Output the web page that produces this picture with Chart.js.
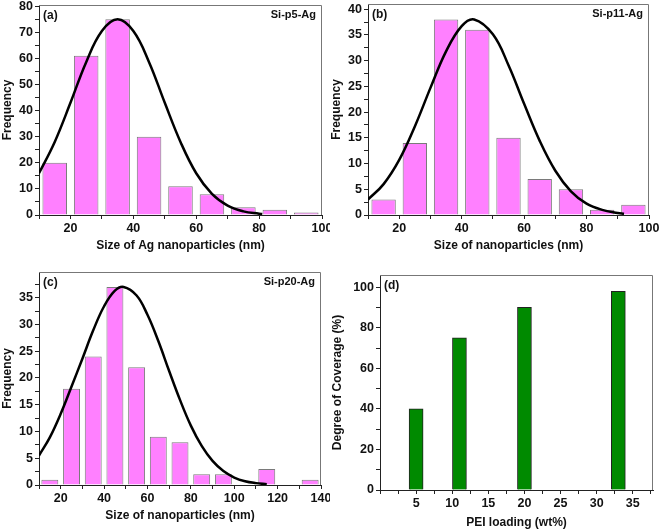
<!DOCTYPE html>
<html>
<head>
<meta charset="utf-8">
<script src="https://cdn.jsdelivr.net/npm/chart.js@4.4.1/dist/chart.umd.min.js"></script>
<style>
  html, body { margin: 0; padding: 0; background: #fff; }
  #page { position: relative; width: 661px; height: 531px; overflow: hidden; }
  canvas { position: absolute; }
</style>
</head>
<body>
<div id="page">
  <canvas id="chartA" width="330" height="265" style="left:0;top:0"></canvas>
  <canvas id="chartB" width="331" height="265" style="left:330px;top:0"></canvas>
  <canvas id="chartC" width="330" height="266" style="left:0;top:265px"></canvas>
  <canvas id="chartD" width="331" height="266" style="left:330px;top:265px"></canvas>
</div>
<script>
// (a) Si-p5-Ag
const binsA = [15, 25, 35, 45, 55, 65, 75, 85, 95];
const countsA = [20, 61, 75, 30, 11, 8, 3, 2, 1];
const fitXA = [10, 15, 20, 25, 30, 35, 40, 45, 50, 55, 60, 65, 70, 75, 80, 81];
const fitYA = [16, 28, 43, 58.6, 70.5, 75, 70.5, 58.6, 43, 28, 16, 8.1, 3.6, 1.4, 0.5, 0.4];

// (b) Si-p11-Ag
const binsB = [15, 25, 35, 45, 55, 65, 75, 85, 95];
const countsB = [3, 14, 38, 36, 15, 7, 5, 1, 2];
const fitXB = [10, 15, 20, 25, 30, 35, 40, 44, 50, 55, 60, 65, 70, 75, 80, 85, 90, 92];
const fitYB = [3, 6, 10.7, 17.2, 24.7, 31.8, 36.7, 38, 35.1, 29.1, 21.6, 14.4, 8.6, 4.6, 2.2, 1, 0.4, 0.25];

// (c) Si-p20-Ag
const binsC = [15, 25, 35, 45, 55, 65, 75, 85, 95, 115, 135];
const countsC = [1, 18, 24, 37, 22, 9, 8, 2, 2, 3, 1];
const fitXC = [10, 15, 20, 25, 30, 35, 40, 45, 49, 55, 60, 65, 70, 75, 80, 85, 90, 95, 100, 105, 110, 115];
const fitYC = [5.5, 8.9, 13.3, 18.4, 23.6, 28.9, 33.4, 36.3, 37, 35.4, 31.8, 26.9, 21.3, 15.9, 11.1, 7.3, 4.5, 2.6, 1.4, 0.7, 0.35, 0.15];

// (d) coverage vs PEI loading
const loading = [5, 11, 20, 33];
const coverage = [40, 75, 90, 98];

const FONT = "'Liberation Sans', Arial, sans-serif";
const tickFont = { family: FONT, size: 12.5, weight: 'bold' };
const titleFont = { family: FONT, size: 12, weight: 'bold' };

// frame + panel labels
const framePlugin = {
    id: 'frame',
    afterDraw(chart, args, opts) {
        const { ctx, chartArea: a } = chart;
        ctx.save();
        ctx.strokeStyle = '#777';
        ctx.lineWidth = 1;
        ctx.beginPath();
        ctx.moveTo(a.left, a.top + 0.5);
        ctx.lineTo(a.right - 0.5, a.top + 0.5);
        ctx.lineTo(a.right - 0.5, a.bottom);
        ctx.stroke();
        ctx.fillStyle = '#111';
        ctx.textBaseline = 'middle';
        ctx.font = 'bold 12px ' + FONT;
        ctx.textAlign = 'left';
        ctx.fillText(opts.tag, a.left + 4, a.top + 11);
        if (opts.label) {
            ctx.font = 'bold 11px ' + FONT;
            ctx.textAlign = 'right';
            ctx.fillText(opts.label, a.right - 6, a.top + 10);
        }
        ctx.restore();
    }
};

function yAxis(max, step, labelEvery, width, title) {
    return {
        type: 'linear', min: 0, max: max,
        border: { color: '#222', width: 1 },
        grid: { drawOnChartArea: false, tickLength: 4, tickColor: '#222' },
        ticks: {
            stepSize: step, includeBounds: false, autoSkip: false, padding: 2,
            color: '#111', font: tickFont,
            callback: v => (Math.abs(v % labelEvery) < 1e-6 ? v : '')
        },
        title: { display: true, text: title, color: '#111', font: titleFont, padding: { top: 0, bottom: 0 } },
        afterFit: s => { s.width = width; s.paddingTop = 0; s.paddingBottom = 0; }
    };
}

function xAxis(min, max, step, labelFn, height, title, titlePad) {
    return {
        type: 'linear', min: min, max: max, offset: false,
        border: { color: '#222', width: 1 },
        grid: { drawOnChartArea: false, offset: false, tickLength: 4, tickColor: '#222' },
        ticks: {
            stepSize: step, includeBounds: false, autoSkip: false, maxRotation: 0, padding: 2,
            color: '#111', font: tickFont, callback: labelFn
        },
        title: { display: true, text: title, color: '#111', font: titleFont, padding: { top: 0, bottom: titlePad } },
        afterFit: s => { s.height = height; s.paddingLeft = 0; s.paddingRight = 0; }
    };
}

function histogram(id, bins, counts, fitX, fitY, yMax, yStep, yLabelEvery, xMax, xTitle, pad, xHeight, xTitlePad, tag, label) {
    new Chart(document.getElementById(id), {
        type: 'bar',
        data: {
            datasets: [{
                type: 'line',
                data: fitX.map((x, i) => ({ x: x, y: fitY[i] })),
                borderColor: '#000',
                borderWidth: 2.5,
                pointRadius: 0,
                tension: 0.4,
                order: 0
            }, {
                type: 'bar',
                data: bins.map((x, i) => ({ x: x, y: counts[i] })),
                backgroundColor: '#ff80ff',
                borderColor: '#7a7a7a',
                borderWidth: 1,
                borderSkipped: 'bottom',
                barPercentage: 0.78,
                categoryPercentage: 1,
                order: 1
            }]
        },
        options: {
            responsive: false,
            animation: false,
            layout: { padding: pad },
            plugins: { legend: { display: false }, tooltip: { enabled: false }, frame: { tag: tag, label: label } },
            scales: {
                x: xAxis(10, xMax, 10, v => (v % 20 === 0 ? v : ''), xHeight, xTitle, xTitlePad),
                y: yAxis(yMax, yStep, yLabelEvery, 39, 'Frequency')
            }
        },
        plugins: [framePlugin]
    });
}

histogram('chartA', binsA, countsA, fitXA, fitYA, 80.5, 5, 10, 100, 'Size of Ag nanoparticles (nm)',
    { top: 5, right: 8, left: 0, bottom: 0 }, 50, 12, '(a)', 'Si-p5-Ag');
histogram('chartB', binsB, countsB, fitXB, fitYB, 41, 2.5, 5, 100, 'Size of nanoparticles (nm)',
    { top: 4, right: 12, left: -1, bottom: 0 }, 50, 12, '(b)', 'Si-p11-Ag');
histogram('chartC', binsC, countsC, fitXC, fitYC, 39.8, 2.5, 5, 140, 'Size of nanoparticles (nm)',
    { top: 7, right: 9, left: 0, bottom: 0 }, 46, 8, '(c)', 'Si-p20-Ag');

new Chart(document.getElementById('chartD'), {
    type: 'bar',
    data: {
        datasets: [{
            data: loading.map((x, i) => ({ x: x, y: coverage[i] })),
            backgroundColor: '#008a00',
            borderColor: '#222',
            borderWidth: 1,
            borderSkipped: 'bottom',
            barThickness: 14
        }]
    },
    options: {
        responsive: false,
        animation: false,
        layout: { padding: { top: 10, right: 8, left: 0, bottom: 0 } },
        plugins: { legend: { display: false }, tooltip: { enabled: false }, frame: { tag: '(d)' } },
        scales: {
            x: xAxis(0, 37.8, 2.5, v => (v > 0 && v % 5 === 0 ? v : ''), 41, 'PEI loading (wt%)', 1.5),
            y: yAxis(106, 10, 20, 50, 'Degree of Coverage (%)')
        }
    },
    plugins: [framePlugin]
});
</script>
</body>
</html>
